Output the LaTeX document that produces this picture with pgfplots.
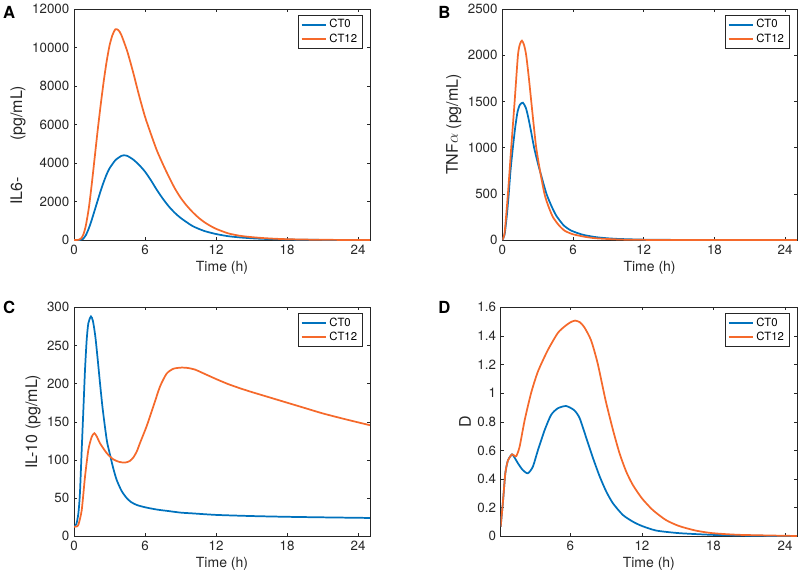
\documentclass[border=0pt]{standalone}
\usepackage{pgfplots}
\pgfplotsset{compat=1.18}
\usepackage{fontspec}
\setmainfont{TeX Gyre Heros}
\definecolor{mblue}{rgb}{0,0.447,0.741}
\definecolor{morange}{rgb}{0.96,0.41,0.17}
\definecolor{axgray}{rgb}{0.15,0.15,0.15}
\pgfplotsset{
  every axis/.append style={
    scale only axis, anchor=south west,
    xmin=0, xmax=25, xtick={0,6,12,18,24},
    tick align=inside, major tick length=2.2pt,
    axis line style={axgray, line width=0.4pt},
    every tick/.style={axgray, line width=0.4pt},
    tick label style={font=\fontsize{10}{12}\selectfont, color=axgray},
    xlabel style={font=\fontsize{10.5}{12}\selectfont, color=axgray, yshift=2pt},
    ylabel style={font=\fontsize{12}{12}\selectfont, color=axgray, yshift=-2pt},
    /pgf/number format/assume math mode=true,
    /pgf/number format/1000 sep={},
    scaled y ticks=false,
    xlabel={Time (h)},
    legend cell align=left,
    legend style={at={(1,1)}, anchor=north east, xshift=-5.5pt, yshift=-4.5pt,
      font=\fontsize{8.5}{10}\selectfont, draw=axgray, line width=0.4pt,
      inner xsep=2pt, inner ysep=1pt, row sep=-1pt},
    legend image code/.code={\draw[#1, line width=1.5pt] (0pt,0pt) -- (18pt,0pt);},
    every axis plot/.append style={line width=1.3pt, smooth, tension=0.4, no markers},
  }
}
\begin{document}
\begin{tikzpicture}
\useasboundingbox (0,0) rectangle (600pt,-432pt);
% ---------------- A
\begin{axis}[at={(55.5pt,-180pt)}, width=222pt, height=173.25pt,
  ymin=0, ymax=12000, ytick={0,2000,4000,6000,8000,10000,12000},
  ylabel={IL6-\hspace{24pt} (pg/mL)},
  ylabel style={at={(ticklabel cs:0.41)}}]
\addplot[mblue] coordinates {
(0,0) (0.5,5) (0.75,50) (1.0,250) (1.25,600) (1.5,1050) (1.75,1550) (2.0,2050)
(2.25,2550) (2.5,3000) (2.75,3400) (3.0,3720) (3.5,4150) (4.0,4370) (4.2,4400)
(4.5,4370) (5.0,4180) (5.5,3900) (6.0,3550) (6.5,3100) (7.0,2600) (7.5,2150)
(8.0,1750) (8.5,1420) (9.0,1150) (10.0,730) (11.0,470) (12.0,310) (13,200)
(14,135) (15,90) (16,60) (18,25) (20,10) (22,4) (25,1)};
\addlegendentry{CT0}
\addplot[morange] coordinates {
(0,0) (0.4,10) (0.6,80) (0.8,300) (1.0,750) (1.25,1650) (1.5,2900) (1.75,4300)
(2.0,5700) (2.25,7000) (2.5,8200) (2.75,9250) (3.0,10100) (3.25,10650)
(3.5,10950) (3.75,10900) (4.0,10650) (4.5,9800) (5.0,8700) (5.5,7500)
(6.0,6400) (6.5,5500) (7.0,4650) (7.5,3950) (8.0,3300) (8.5,2700) (9.0,2200)
(9.5,1800) (10.0,1460) (10.5,1170) (11,930) (11.5,740) (12,580) (13,350)
(14,220) (15,150) (16,100) (17,65) (18,42) (20,18) (22,7) (25,2)};
\addlegendentry{CT12}
\end{axis}
% ---------------- B
\begin{axis}[at={(376.7pt,-180pt)}, width=221pt, height=173.25pt,
  ymin=0, ymax=2500, ytick={0,500,1000,1500,2000,2500},
  ylabel={TNF$\alpha$ (pg/mL)}]
\addplot[mblue] coordinates {
(0,0) (0.2,60) (0.4,280) (0.55,500) (0.7,750) (0.9,1000) (1.1,1220) (1.3,1390)
(1.5,1465) (1.75,1486) (2.0,1430) (2.2,1330) (2.45,1170) (2.7,1000) (3.0,840)
(3.3,700) (3.75,500) (4.2,360) (4.6,260) (5.2,160) (5.8,105) (6.5,70) (7,52)
(8,30) (9,18) (10,11) (12,4) (15,1) (18,0.3) (25,0)};
\addlegendentry{CT0}
\addplot[morange] coordinates {
(0,0) (0.2,80) (0.48,500) (0.76,1000) (1.05,1500) (1.33,2000) (1.5,2120)
(1.67,2157) (1.85,2110) (2.03,2000) (2.25,1760) (2.46,1500) (2.67,1240)
(2.88,1000) (3.2,750) (3.58,500) (3.9,370) (4.29,250) (4.8,160) (5.3,100)
(6,62) (7,35) (8,18) (10,5) (12,1.5) (15,0.3) (25,0)};
\addlegendentry{CT12}
\end{axis}
% ---------------- C
\begin{axis}[at={(55.5pt,-402.2pt)}, width=222pt, height=171.75pt,
  ymin=0, ymax=300, ytick={0,50,100,150,200,250,300},
  ylabel={IL-10 (pg/mL)}]
\addplot[mblue] coordinates {
(0,12.6) (0.2,16) (0.37,30) (0.5,56) (0.65,113) (0.79,165) (0.93,218) (1.07,257)
(1.21,279) (1.43,288) (1.6,282) (1.8,262) (2.0,232) (2.2,200) (2.4,170) (2.6,145)
(2.8,123) (3.04,107) (3.3,90) (3.6,74) (4.0,60) (4.4,51) (4.8,45) (5.3,41)
(6,38) (7,35) (8,33) (9,31) (10,30) (12,28) (15,26.5) (18,25.5) (21,24.8) (25,24)};
\addlegendentry{CT0}
\addplot[morange] coordinates {
(0,12.6) (0.2,12.8) (0.37,15) (0.65,34) (0.93,78) (1.21,113) (1.49,130) (1.72,135)
(1.95,130) (2.19,122) (2.76,109) (3.3,101) (3.8,97.5) (4.3,96.5) (4.7,98.5)
(5.0,103) (5.3,111) (5.57,122) (6.13,144) (6.7,170) (7.26,196) (7.82,213)
(8.4,219.5) (9.1,221) (9.6,220.5) (10.2,218.5) (11,213) (12,206) (13,199.5)
(14,194) (15,189) (16.5,182) (18,175) (19.5,168) (21,161) (23,153) (25,145.5)};
\addlegendentry{CT12}
\end{axis}
% ---------------- D
\begin{axis}[at={(375.5pt,-402.2pt)}, width=222.2pt, height=171.75pt,
  xmin=0.15, xtick={6,12,18,24},
  ymin=0, ymax=1.6, ytick={0,0.2,0.4,0.6,0.8,1,1.2,1.4,1.6},
  ylabel={D}]
\addplot[mblue] coordinates {
(0.15,0.067) (0.35,0.25) (0.54,0.44) (0.76,0.53) (1.1,0.572) (1.35,0.545)
(1.6,0.51) (2.0,0.463) (2.43,0.44) (2.85,0.486) (3.27,0.60) (3.83,0.74)
(4.38,0.848) (4.94,0.894) (5.64,0.91) (6.33,0.88) (6.78,0.824) (7.34,0.685)
(7.9,0.545) (8.46,0.417) (9.01,0.312) (9.57,0.23) (10.4,0.149) (11.24,0.102)
(12,0.072) (13.2,0.04) (15.1,0.022) (17.9,0.01) (21,0.004) (25,0.001)};
\addlegendentry{CT0}
\addplot[morange] coordinates {
(0.15,0.067) (0.35,0.25) (0.54,0.44) (0.76,0.53) (1.1,0.572) (1.3,0.563)
(1.46,0.56) (1.74,0.626) (2.16,0.81) (2.7,1.0) (3.27,1.15) (4.1,1.30) (4.94,1.42)
(5.5,1.465) (6.0,1.495) (6.4,1.507) (6.8,1.495) (7.17,1.46) (7.73,1.37)
(8.28,1.21) (8.95,0.95) (9.57,0.743) (10.12,0.58) (10.68,0.452) (11.24,0.358)
(12,0.265) (12.9,0.184) (14.0,0.114) (15.1,0.072) (16.5,0.04) (17.9,0.022)
(20.2,0.01) (25,0.002)};
\addlegendentry{CT12}
\end{axis}
% panel letters
\node[font=\bfseries\fontsize{12.5}{13}\selectfont, anchor=north west, inner sep=0pt] at (2.2pt,-4.3pt) {A};
\node[font=\bfseries\fontsize{12.5}{13}\selectfont, anchor=north west, inner sep=0pt] at (328.5pt,-4.3pt) {B};
\node[font=\bfseries\fontsize{12.5}{13}\selectfont, anchor=north west, inner sep=0pt] at (2.2pt,-225.5pt) {C};
\node[font=\bfseries\fontsize{12.5}{13}\selectfont, anchor=north west, inner sep=0pt] at (328.5pt,-225.5pt) {D};
\end{tikzpicture}
\end{document}
